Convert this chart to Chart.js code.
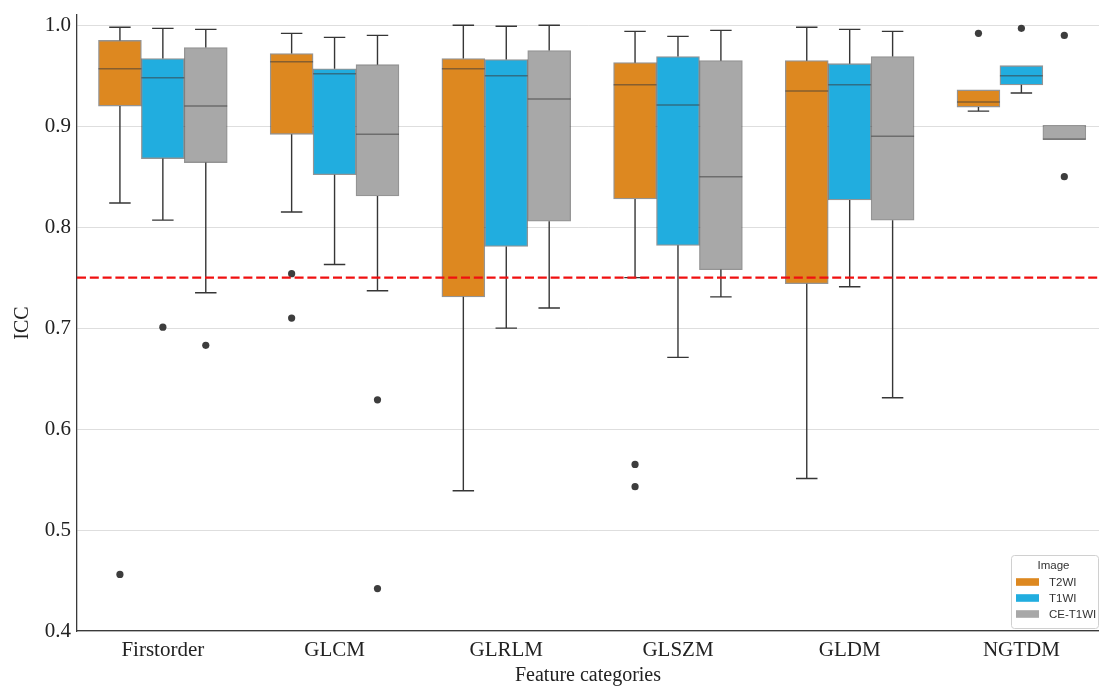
<!DOCTYPE html>
<html>
<head>
<meta charset="utf-8">
<script src="https://cdn.jsdelivr.net/npm/chart.js@4.4.1/dist/chart.umd.min.js"></script>
<style>
  html, body { margin: 0; padding: 0; background: #ffffff; overflow: hidden; }
  #wrap { width: 1099px; height: 688px; position: relative; }
</style>
</head>
<body>
<div id="wrap"><canvas id="c" width="1099" height="688"></canvas></div>
<script>
// ---------------- data ----------------
const categories = ['Firstorder', 'GLCM', 'GLRLM', 'GLSZM', 'GLDM', 'NGTDM'];
const seriesNames = ['T2WI', 'T1WI', 'CE-T1WI'];
const yTickValues = [0.4, 0.5, 0.6, 0.7, 0.8, 0.9, 1.0];
const threshold = 0.75;

const t2wiLow  = [0.824, 0.815, 0.539, 0.750, 0.551, 0.915];
const t2wiQ1   = [0.920, 0.892, 0.731, 0.828, 0.744, 0.919];
const t2wiMed  = [0.957, 0.964, 0.957, 0.941, 0.935, 0.924];
const t2wiQ3   = [0.985, 0.972, 0.967, 0.963, 0.965, 0.936];
const t2wiHigh = [0.998, 0.992, 1.000, 0.994, 0.998, 0.936];
const t2wiOut  = [[0.456], [0.754, 0.710], [], [0.565, 0.543], [], [0.992]];

const t1wiLow  = [0.807, 0.763, 0.700, 0.671, 0.741, 0.933];
const t1wiQ1   = [0.868, 0.852, 0.781, 0.782, 0.827, 0.941];
const t1wiMed  = [0.948, 0.952, 0.950, 0.921, 0.941, 0.950];
const t1wiQ3   = [0.967, 0.957, 0.966, 0.969, 0.962, 0.960];
const t1wiHigh = [0.997, 0.988, 0.999, 0.989, 0.996, 0.960];
const t1wiOut  = [[0.701], [], [], [], [], [0.997]];

const ceLow  = [0.735, 0.737, 0.720, 0.731, 0.631, 0.887];
const ceQ1   = [0.864, 0.831, 0.806, 0.758, 0.807, 0.887];
const ceMed  = [0.920, 0.892, 0.927, 0.850, 0.890, 0.887];
const ceQ3   = [0.978, 0.961, 0.975, 0.965, 0.969, 0.901];
const ceHigh = [0.996, 0.990, 1.000, 0.995, 0.994, 0.901];
const ceOut  = [[0.683], [0.629, 0.442], [], [], [], [0.990, 0.850]];

// ---------------- styling ----------------
const fills = ['#DD8820', '#21ADDF', '#A8A8A8'];
const edgeCol = 'rgba(60,60,60,0.55)';
const whiskerCol = '#363636';
const pointCol = '#3d3d3d';
const serif = "'Liberation Serif', 'Times New Roman', serif";
const sans = "'Liberation Sans', Arial, sans-serif";

const stats = [
  { low: t2wiLow, q1: t2wiQ1, med: t2wiMed, q3: t2wiQ3, high: t2wiHigh, out: t2wiOut },
  { low: t1wiLow, q1: t1wiQ1, med: t1wiMed, q3: t1wiQ3, high: t1wiHigh, out: t1wiOut },
  { low: ceLow,   q1: ceQ1,   med: ceMed,   q3: ceQ3,   high: ceHigh,   out: ceOut }
];
const hueStep = 0.25;               // dodge between hue boxes (category units)
const hueOffset = j => (j - 1) * hueStep;

const datasets = [];
stats.forEach((s, j) => {
  datasets.push({
    type: 'bar',
    label: seriesNames[j],
    data: categories.map((c, i) => ({ x: i + hueOffset(j), y: [s.q1[i], s.q3[i]] })),
    backgroundColor: fills[j],
    borderColor: edgeCol,
    borderWidth: 1.3,
    borderSkipped: false,
    grouped: false,
    barPercentage: 1,
    categoryPercentage: 1,
    order: 2
  });
});
stats.forEach((s, j) => {
  const pts = [];
  s.out.forEach((arr, i) => arr.forEach(v => pts.push({ x: i + hueOffset(j), y: v })));
  datasets.push({
    type: 'scatter',
    label: seriesNames[j] + ' outliers',
    data: pts,
    backgroundColor: pointCol,
    borderColor: pointCol,
    pointRadius: 3.6,
    pointBorderWidth: 0,
    order: 1
  });
});

const boxExtras = {
  id: 'boxExtras',
  beforeDatasetsDraw(chart) {
    const ctx = chart.ctx, ys = chart.scales.y;
    ctx.save();
    ctx.strokeStyle = whiskerCol;
    ctx.lineWidth = 1.4;
    stats.forEach((s, j) => {
      const meta = chart.getDatasetMeta(j);
      meta.data.forEach((bar, i) => {
        const x = bar.x, hw = bar.width / 4;
        const pLow = ys.getPixelForValue(s.low[i]);
        const pQ1 = ys.getPixelForValue(s.q1[i]);
        const pQ3 = ys.getPixelForValue(s.q3[i]);
        const pHigh = ys.getPixelForValue(s.high[i]);
        ctx.beginPath();
        if (pLow - pQ1 > 0.5) {
          ctx.moveTo(x, pQ1); ctx.lineTo(x, pLow);
          ctx.moveTo(x - hw, pLow); ctx.lineTo(x + hw, pLow);
        }
        if (pQ3 - pHigh > 0.5) {
          ctx.moveTo(x, pQ3); ctx.lineTo(x, pHigh);
          ctx.moveTo(x - hw, pHigh); ctx.lineTo(x + hw, pHigh);
        }
        ctx.stroke();
      });
    });
    ctx.restore();
  },
  afterDatasetsDraw(chart) {
    const ctx = chart.ctx, ys = chart.scales.y, area = chart.chartArea;
    ctx.save();
    // medians
    ctx.strokeStyle = edgeCol;
    ctx.lineWidth = 1.5;
    stats.forEach((s, j) => {
      const meta = chart.getDatasetMeta(j);
      meta.data.forEach((bar, i) => {
        const y = ys.getPixelForValue(s.med[i]);
        ctx.beginPath();
        ctx.moveTo(bar.x - bar.width / 2, y);
        ctx.lineTo(bar.x + bar.width / 2, y);
        ctx.stroke();
      });
    });
    // threshold line
    const ty = ys.getPixelForValue(threshold);
    ctx.strokeStyle = '#f01010';
    ctx.lineWidth = 2.4;
    ctx.setLineDash([9, 3.8]);
    ctx.beginPath();
    ctx.moveTo(area.left, ty);
    ctx.lineTo(area.right, ty);
    ctx.stroke();
    ctx.setLineDash([]);
    ctx.restore();
  },
  afterDraw(chart) {
    // legend box in lower-right of plot
    const ctx = chart.ctx, area = chart.chartArea;
    const right = area.right - 0.5, bottom = area.bottom - 2.5;
    const w = 87, h = 73;
    const left = right - w, top = bottom - h;
    ctx.save();
    ctx.fillStyle = 'rgba(255,255,255,0.85)';
    ctx.strokeStyle = '#d0d0d0';
    ctx.lineWidth = 1;
    ctx.beginPath();
    ctx.roundRect(left, top, w, h, 3);
    ctx.fill();
    ctx.stroke();
    ctx.fillStyle = '#333';
    ctx.font = '11.5px ' + sans;
    ctx.textAlign = 'center';
    ctx.textBaseline = 'middle';
    ctx.fillText('Image', left + 42, top + 10.5);
    ctx.textAlign = 'left';
    seriesNames.forEach((n, j) => {
      const cy = top + 26.5 + j * 16;
      ctx.fillStyle = fills[j];
      ctx.fillRect(left + 4.5, cy - 3.8, 23, 7.6);
      ctx.fillStyle = '#333';
      ctx.fillText(n, left + 37.5, cy + 0.5);
    });
    ctx.restore();
  }
};

new Chart(document.getElementById('c'), {
  type: 'bar',
  data: { datasets },
  options: {
    responsive: false,
    animation: false,
    devicePixelRatio: 1,
    layout: { autoPadding: false, padding: { top: 15, right: 0, left: 0, bottom: 0 } },
    plugins: { legend: { display: false }, tooltip: { enabled: false } },
    scales: {
      x: {
        type: 'linear',
        offset: false,
        min: -0.5,
        max: 5.452,
        afterBuildTicks: sc => { sc.ticks = categories.map((c, i) => ({ value: i })); },
        afterFit: sc => { sc.height = 57; sc.paddingLeft = 0; sc.paddingRight = 0; },
        ticks: {
          callback: v => categories[v],
          font: { family: serif, size: 21 },
          color: '#222',
          padding: 7,
          maxRotation: 0,
          autoSkip: false
        },
        grid: { display: false, drawTicks: false },
        border: { display: true, color: '#3a3a3a', width: 1.3 },
        title: {
          display: true,
          text: 'Feature categories',
          font: { family: serif, size: 20 },
          color: '#222',
          padding: { top: 0, bottom: 0 }
        }
      },
      y: {
        type: 'linear',
        min: 0.4,
        max: 1.0102,
        afterBuildTicks: sc => { sc.ticks = yTickValues.map(v => ({ value: v })); },
        afterFit: sc => { sc.width = 77; sc.paddingTop = 0; sc.paddingBottom = 0; },
        ticks: {
          callback: v => v.toFixed(1),
          font: { family: serif, size: 21 },
          color: '#222',
          padding: 6
        },
        grid: { color: '#dedede', lineWidth: 1, drawTicks: false },
        border: { display: true, color: '#3a3a3a', width: 1.3 },
        title: {
          display: true,
          text: 'ICC',
          font: { family: serif, size: 20 },
          color: '#222',
          padding: { top: 11, bottom: 0 }
        }
      }
    }
  },
  plugins: [boxExtras]
});
</script>
</body>
</html>
